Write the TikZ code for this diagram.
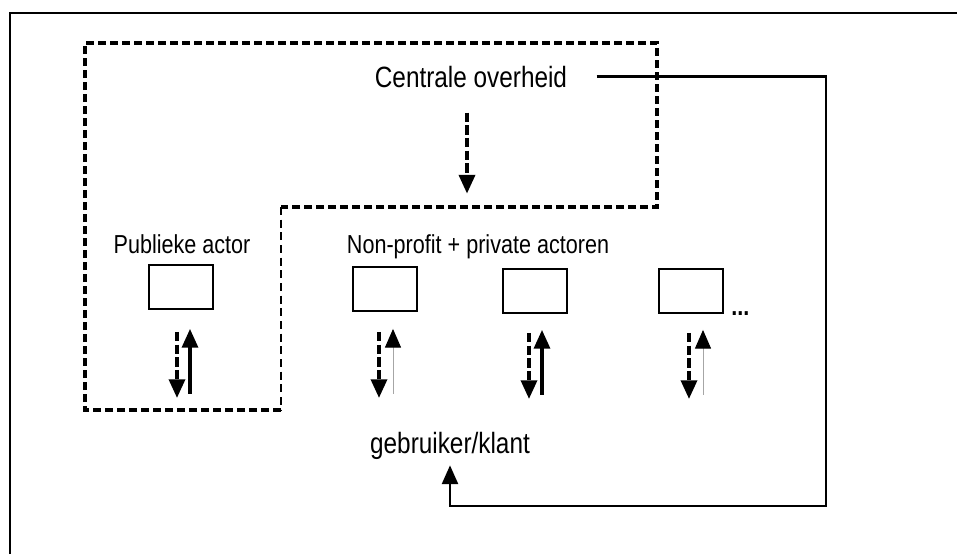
\documentclass[tikz,border=0pt]{standalone}
\usepackage{fontspec}
\setmainfont[FakeStretch=0.83]{Liberation Sans}
\usetikzlibrary{arrows.meta,calc}

\begin{document}
\begin{tikzpicture}[x=0.75pt,y=-0.75pt,
		actorbox/.style={draw,line width=1.4pt,minimum width=48pt,minimum height=33pt,inner sep=0pt},
		lbl/.style={inner sep=0pt,font=\fontsize{19.5}{22}\selectfont},
		biglbl/.style={inner sep=0pt,font=\fontsize{22}{25}\selectfont},
		tip/.style={-{Triangle[width=12pt,length=14pt,color=black]}},
		dasharrow/.style={tip,line width=2.6pt,dash pattern=on 7pt off 2.5pt},
		thickup/.style={tip,line width=2.3pt},
		thinup/.style={tip,line width=0.75pt,color=black!35},
		boundary/.style={line width=2.6pt,dash pattern=on 6pt off 3pt},
		link/.style={line width=1.6pt,-{Triangle[width=12pt,length=14pt]}}]
			%%%%% START %%%%%
			\useasboundingbox (0,0) rectangle (957,554);
			
			% frame
			\draw[line width=1.6pt] (10,554) -- (10,13) -- (957,13);
			
			% dashed area of the public side
			\draw[boundary] (281,410) -- (85,410) -- (85,43) -- (657,43) -- (657,207) -- (281,207);
			\draw[line width=0.8pt,dash pattern=on 6pt off 3.5pt] (281,207) -- (281,410);
			
			\node[biglbl,anchor=base] (co) at (471,87) {Centrale overheid};
			\node[lbl,anchor=base] (pa) at (182,253) {Publieke actor};
			\node[lbl,anchor=base] (np) at (478,253) {Non-profit + private actoren};
			\node[biglbl,anchor=base] (gk) at (450,453) {gebruiker/klant};
			
			\node[actorbox] (pub) at (181,287) {};
			\node[actorbox] (npa) at (385,289) {};
			\node[actorbox] (npb) at (535,291) {};
			\node[actorbox] (npc) at (691,291) {};
			\node[lbl,anchor=base west,font=\fontsize{19.5}{22}\selectfont\bfseries] (more) at (731,315) {...};
			
			\draw[dasharrow] ([shift={(-4,25)}]co.south) -- ++(0,81);
			
			\draw[dasharrow] ([shift={(-4,22)}]pub.south) -- ++(0,66);
			\draw[thickup] ([shift={(9,84)}]pub.south) -- ++(0,-65);
			\draw[dasharrow] ([shift={(-6,20)}]npa.south) -- ++(0,66);
			\draw[thinup] ([shift={(8,82)}]npa.south) -- ++(0,-65);
			\draw[dasharrow] ([shift={(-6,19)}]npb.south) -- ++(0,66);
			\draw[thickup] ([shift={(7,81)}]npb.south) -- ++(0,-65);
			\draw[dasharrow] ([shift={(-2,19)}]npc.south) -- ++(0,66);
			\draw[thinup] ([shift={(12,81)}]npc.south) -- ++(0,-65);
			
			\coordinate (bend) at (826,506);
			\draw[link] ([xshift=22pt]co.east) -| (bend) -| ([yshift=-4.5pt]gk.south);
			%%%%% END %%%%%
\end{tikzpicture}
\end{document}
